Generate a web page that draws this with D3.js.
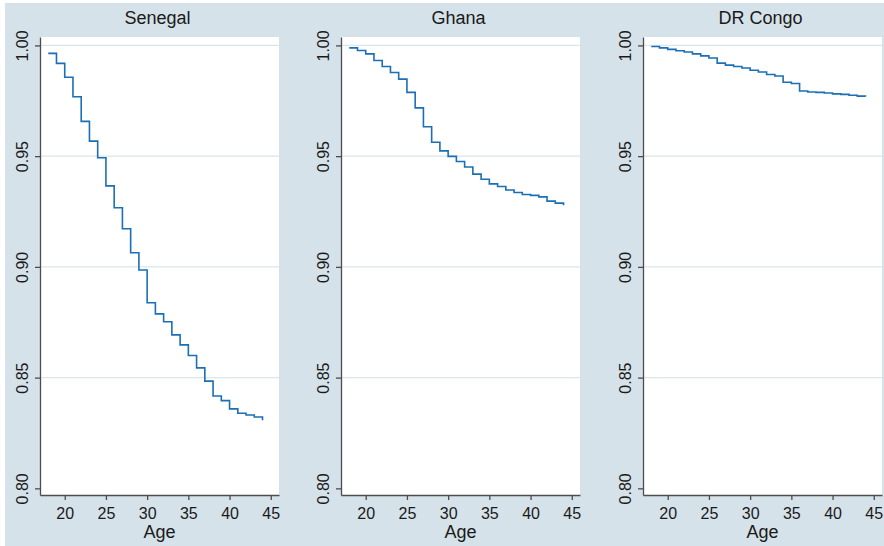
<!DOCTYPE html>
<html>
<head>
<meta charset="utf-8">
<script src="https://cdn.jsdelivr.net/npm/d3@7"></script>
<style>
	body { margin: 0; background: #ffffff; }
	svg { display: block; font-family: "Liberation Sans", Arial, Helvetica, sans-serif; }
	.grid { stroke: #dbe5eb; stroke-width: 1.4; }
	.axis path, .axis line { stroke: #4d4d4d; stroke-width: 1.3; }
	.axis text { fill: #1a1a1a; font-size: 16px; }
	.km { fill: none; stroke: #1b6fb4; stroke-width: 1.6; }
	.title { font-size: 18px; fill: #1a1a1a; }
</style>
</head>
<body>
<svg width="884" height="546"></svg>
<script>
// survival curves by age, one value per year of age
var ages = [18, 19, 20, 21, 22, 23, 24, 25, 26, 27, 28, 29, 30, 31, 32, 33, 34, 35, 36, 37, 38, 39, 40, 41, 42, 43, 44];

var senegal = [0.9964, 0.9919, 0.9856, 0.9768, 0.9657, 0.9568, 0.9493, 0.9366, 0.9267, 0.9172,
	0.9064, 0.8986, 0.8838, 0.8788, 0.8752, 0.8693, 0.8648, 0.8600, 0.8544, 0.8484,
	0.8417, 0.8396, 0.8359, 0.8339, 0.8331, 0.8322, 0.8308];

var ghana = [0.9989, 0.9977, 0.9962, 0.9932, 0.9905, 0.9878, 0.9848, 0.9788, 0.9718, 0.9633,
	0.9563, 0.9524, 0.9499, 0.9476, 0.9451, 0.9419, 0.9396, 0.9375, 0.9363, 0.9347,
	0.9336, 0.9327, 0.9323, 0.9316, 0.9297, 0.9288, 0.9278];

var drCongo = [0.9995, 0.9989, 0.9982, 0.9976, 0.9970, 0.9962, 0.9953, 0.9943, 0.9920, 0.9911,
	0.9905, 0.9898, 0.9888, 0.9880, 0.9869, 0.9862, 0.9834, 0.9828, 0.9794, 0.9790,
	0.9788, 0.9785, 0.9781, 0.9779, 0.9775, 0.9771, 0.9769];

var countries = ["Senegal", "Ghana", "DR Congo"];
var series = [senegal, ghana, drCongo];

var xTicks = [20, 25, 30, 35, 40, 45];
var yTicks = [0.80, 0.85, 0.90, 0.95, 1.00];

var svg = d3.select("svg");

var panelLefts = [40, 341, 643];
var panelWidth = 239;
var plotTop = 37;
var plotBottom = 495;

function drawBackground() {
	svg.append("rect")
		.attr("x", 5)
		.attr("y", 3)
		.attr("width", 879)
		.attr("height", 543)
		.attr("fill", "#d6e2e9");
}

function drawPanel(i) {
	var left = panelLefts[i];
	var right = left + panelWidth;

	var x = d3.scaleLinear().domain([17, 46]).range([left, right]);
	var y = d3.scaleLinear().domain([0.797, 1.0038]).range([plotBottom, plotTop]);

	var g = svg.append("g").attr("class", "panel");

	// white plot region
	g.append("rect")
		.attr("x", left)
		.attr("y", plotTop)
		.attr("width", panelWidth)
		.attr("height", plotBottom - plotTop)
		.attr("fill", "#ffffff");

	// gridlines (none on the bottom tick)
	g.selectAll(".grid")
		.data(yTicks.filter(function(d) { return d > 0.8; }))
		.enter()
		.append("line")
		.attr("class", "grid")
		.attr("x1", left)
		.attr("x2", right)
		.attr("y1", function(d) { return y(d); })
		.attr("y2", function(d) { return y(d); });

	var line = d3.line()
		.x(function(d, j) { return x(ages[j]); })
		.y(function(d) { return y(d); })
		.curve(d3.curveStepAfter);

	g.append("path")
		.datum(series[i])
		.attr("class", "km")
		.attr("d", line);

	var yAxis = g.append("g")
		.attr("class", "axis")
		.attr("transform", "translate(" + left + ",0)")
		.call(d3.axisLeft(y).tickValues(yTicks).tickSize(5).tickSizeOuter(0).tickFormat(d3.format(".2f")));

	yAxis.selectAll("text")
		.attr("transform", "rotate(-90)")
		.attr("x", 0)
		.attr("y", -12.5)
		.attr("dy", 0)
		.attr("text-anchor", "middle");

	var xAxis = g.append("g")
		.attr("class", "axis")
		.attr("transform", "translate(0," + plotBottom + ")")
		.call(d3.axisBottom(x).tickValues(xTicks).tickSize(5).tickSizeOuter(0).tickFormat(d3.format("d")));

	xAxis.selectAll("text")
		.attr("y", 24)
		.attr("dy", 0);

	g.append("text")
		.attr("class", "title")
		.attr("x", (left + right) / 2 - 2)
		.attr("y", 24)
		.attr("text-anchor", "middle")
		.text(countries[i]);

	g.append("text")
		.attr("class", "title")
		.attr("x", (left + right) / 2)
		.attr("y", 538)
		.attr("text-anchor", "middle")
		.text("Age");
}

drawBackground();
countries.forEach(function(c, i) {
	drawPanel(i);
});
</script>
</body>
</html>
